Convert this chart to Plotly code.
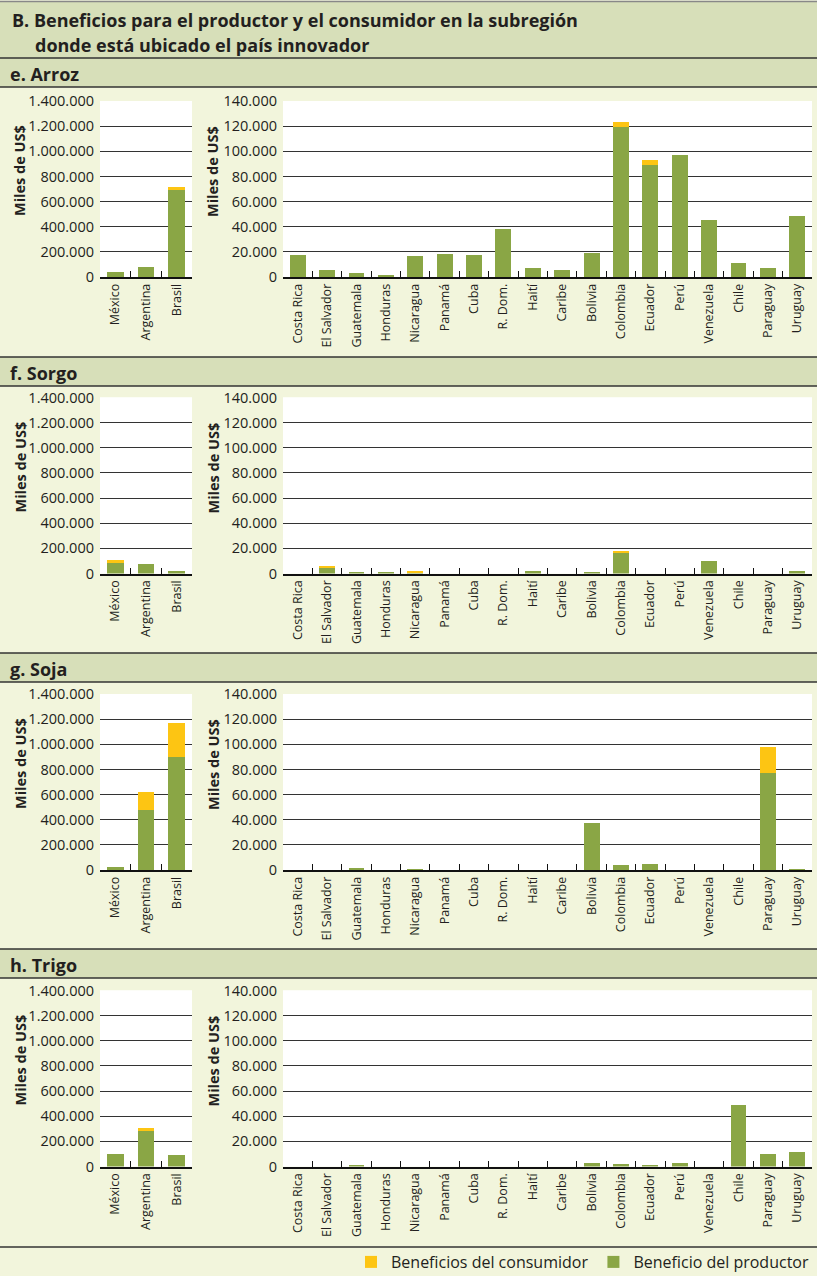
import plotly.graph_objects as go

# ---------------- data ----------------
left_cats = ["México", "Argentina", "Brasil"]
right_cats = ["Costa Rica", "El Salvador", "Guatemala", "Honduras", "Nicaragua", "Panamá",
              "Cuba", "R. Dom.", "Haití", "Caribe", "Bolivia", "Colombia", "Ecuador",
              "Perú", "Venezuela", "Chile", "Paraguay", "Uruguay"]

panel_titles = ["e. Arroz", "f. Sorgo", "g. Soja", "h. Trigo"]

# e. Arroz
arroz_left_prod = [38000, 78000, 695000]
arroz_left_cons = [0, 0, 22000]
arroz_right_prod = [17300, 5500, 3100, 1600, 16500, 18000, 17300, 38500, 7000, 5500,
                    19000, 119400, 89300, 97400, 45500, 11000, 7000, 48700]
arroz_right_cons = [0, 0, 0, 0, 0, 0, 0, 0, 0, 0,
                    0, 3900, 3400, 0, 0, 0, 0, 0]

# f. Sorgo
sorgo_left_prod = [86000, 78000, 20000]
sorgo_left_cons = [25000, 0, 0]
sorgo_right_prod = [0, 5100, 1100, 1100, 1100, 0, 0, 0, 1900, 0,
                    1100, 16300, 0, 0, 9900, 0, 0, 1900]
sorgo_right_cons = [0, 1000, 0, 0, 800, 0, 0, 0, 0, 0,
                    0, 1600, 0, 0, 0, 0, 0, 0]

# g. Soja
soja_left_prod = [21000, 476000, 900000]
soja_left_cons = [0, 142000, 267000]
soja_right_prod = [0, 0, 1300, 0, 500, 0, 0, 0, 0, 0,
                   37400, 3700, 4500, 0, 0, 0, 77500, 500]
soja_right_cons = [0, 0, 0, 0, 0, 0, 0, 0, 0, 0,
                   0, 0, 0, 0, 0, 0, 20400, 0]

# h. Trigo
trigo_left_prod = [98000, 284000, 90000]
trigo_left_cons = [0, 21000, 0]
trigo_right_prod = [0, 0, 1100, 0, 0, 0, 0, 0, 0, 0,
                    2600, 1800, 1100, 2600, 0, 48600, 9800, 11400]
trigo_right_cons = [0, 0, 0, 0, 0, 0, 0, 0, 0, 0,
                    0, 0, 0, 0, 0, 0, 0, 0]

left_ticks = [0, 200000, 400000, 600000, 800000, 1000000, 1200000, 1400000]
right_ticks = [0, 20000, 40000, 60000, 80000, 100000, 120000, 140000]

series_prod_name = "Beneficio del productor"
series_cons_name = "Beneficios del consumidor"

panels = [
    (arroz_left_prod, arroz_left_cons, arroz_right_prod, arroz_right_cons),
    (sorgo_left_prod, sorgo_left_cons, sorgo_right_prod, sorgo_right_cons),
    (soja_left_prod, soja_left_cons, soja_right_prod, soja_right_cons),
    (trigo_left_prod, trigo_left_cons, trigo_right_prod, trigo_right_cons),
]

# ---------------- style / layout ----------------
W, H = 817, 1276
FONT = "Open Sans, Noto Sans, sans-serif"
GREEN = "#8aa645"
YELLOW = "#fdc513"
CREAM = "#f2f5dc"
BAND = "#d7dfb9"
LINE = "#333333"
TXT = "#231f20"

tops = [101, 397.5, 694, 990.5]
PH = 176
bands = [(58, 87), (357, 386), (653, 682), (949, 978)]


def fx(px):
    return px / W


def fy(py):
    return 1 - py / H


fig = go.Figure()
layout_axes = {}
annotations = []
shapes = []

for i, (lp, lc, rp, rc) in enumerate(panels):
    top = tops[i]
    ydom = [fy(top + PH), fy(top)]
    for side in range(2):
        n = 2 * i + side + 1
        xname = "x" if n == 1 else f"x{n}"
        yname = "y" if n == 1 else f"y{n}"
        cats = left_cats if side == 0 else right_cats
        prod = lp if side == 0 else rp
        cons = lc if side == 0 else rc
        show = (i == 0 and side == 0)
        fig.add_trace(go.Bar(x=cats, y=prod, name=series_prod_name, marker_color=GREEN,
                             marker_line_width=0, xaxis=xname, yaxis=yname,
                             showlegend=show, legendgroup="p"))
        fig.add_trace(go.Bar(x=cats, y=cons, name=series_cons_name, marker_color=YELLOW,
                             marker_line_width=0, xaxis=xname, yaxis=yname,
                             showlegend=show, legendgroup="c"))
        xdom = [fx(100), fx(192)] if side == 0 else [fx(283), fx(812)]
        ticks = left_ticks if side == 0 else right_ticks
        layout_axes["xaxis" if n == 1 else f"xaxis{n}"] = dict(
            domain=xdom, anchor=yname, type="category", tickangle=-90, automargin=False,
            showline=True, linecolor="#111111", linewidth=1.5,
            ticks="inside", tickson="boundaries", ticklen=6, tickcolor="#111111", tickwidth=1.2,
            tickfont=dict(family=FONT, size=12.5, color=TXT), showgrid=False, fixedrange=True,
        )
        layout_axes["yaxis" if n == 1 else f"yaxis{n}"] = dict(
            domain=ydom, anchor=xname, range=[0, ticks[-1]], tickmode="array", automargin=False,
            tickvals=ticks, tickformat=",d", showgrid=True, gridcolor=LINE, gridwidth=1.3,
            showline=False, zeroline=False, ticks="", ticklabelstandoff=5,
            tickfont=dict(family=FONT, size=14.5, color=TXT), fixedrange=True,
        )
        # y label
        annotations.append(dict(
            text="<b>Miles de US$</b>", textangle=-90, xref="paper", yref="paper",
            x=fx(20 if side == 0 else 213), y=fy(top + 70), xanchor="center", yanchor="middle",
            showarrow=False, font=dict(family=FONT, size=14.5, color=TXT)))
    # plot area white backgrounds
    shapes.append(dict(type="rect", xref="paper", yref="paper", layer="below",
                       x0=fx(100), x1=fx(192), y0=ydom[0], y1=ydom[1],
                       fillcolor="white", line_width=0))
    shapes.append(dict(type="rect", xref="paper", yref="paper", layer="below",
                       x0=fx(283), x1=fx(812), y0=ydom[0], y1=ydom[1],
                       fillcolor="white", line_width=0))
    # section band
    b0, b1 = bands[i]
    shapes.append(dict(type="rect", xref="paper", yref="paper", layer="below",
                       x0=0, x1=1, y0=fy(b1), y1=fy(b0), fillcolor=BAND, line_width=0))
    for yy in (b0, b1):
        shapes.append(dict(type="line", xref="paper", yref="paper", x0=0, x1=1,
                           y0=fy(yy), y1=fy(yy), line=dict(color=LINE, width=1.5)))
    annotations.append(dict(
        text=f"<b>{panel_titles[i]}</b>", xref="paper", yref="paper", x=fx(8), y=fy((b0 + b1) / 2 + 1),
        xanchor="left", yanchor="middle", showarrow=False,
        font=dict(family=FONT, size=18, color=TXT)))

# main title band
shapes.append(dict(type="rect", xref="paper", yref="paper", layer="below",
                   x0=0, x1=1, y0=fy(58), y1=fy(2), fillcolor=BAND, line_width=0))
shapes.append(dict(type="line", xref="paper", yref="paper", x0=0, x1=1,
                   y0=fy(1.5), y1=fy(1.5), line=dict(color="#888888", width=1.5)))
shapes.append(dict(type="line", xref="paper", yref="paper", x0=0, x1=1,
                   y0=fy(1247), y1=fy(1247), line=dict(color=LINE, width=1.5)))
annotations.append(dict(
    text="<b>B. Beneficios para el productor y el consumidor en la subregión</b>",
    xref="paper", yref="paper", x=fx(10), y=fy(20), xanchor="left", yanchor="middle",
    showarrow=False, font=dict(family=FONT, size=18, color=TXT)))
annotations.append(dict(
    text="<b>donde está ubicado el país innovador</b>",
    xref="paper", yref="paper", x=fx(33), y=fy(45), xanchor="left", yanchor="middle",
    showarrow=False, font=dict(family=FONT, size=18, color=TXT)))

fig.update_layout(
    width=W, height=H, margin=dict(l=0, r=0, t=0, b=0, autoexpand=False),
    paper_bgcolor=CREAM, plot_bgcolor="white",
    barmode="stack", bargap=0.46, separators=",.",
    showlegend=True,
    legend=dict(orientation="h", xref="container", yref="container",
                x=fx(814), xanchor="right", y=fy(1262), yanchor="middle",
                traceorder="reversed", font=dict(family=FONT, size=16, color=TXT),
                bgcolor="rgba(0,0,0,0)", itemclick=False, itemdoubleclick=False),
    annotations=annotations, shapes=shapes,
    **layout_axes,
)

fig.write_html("out.html", config={"displayModeBar": False},
               post_script="document.body.style.margin='0';document.body.style.overflow='hidden';")
